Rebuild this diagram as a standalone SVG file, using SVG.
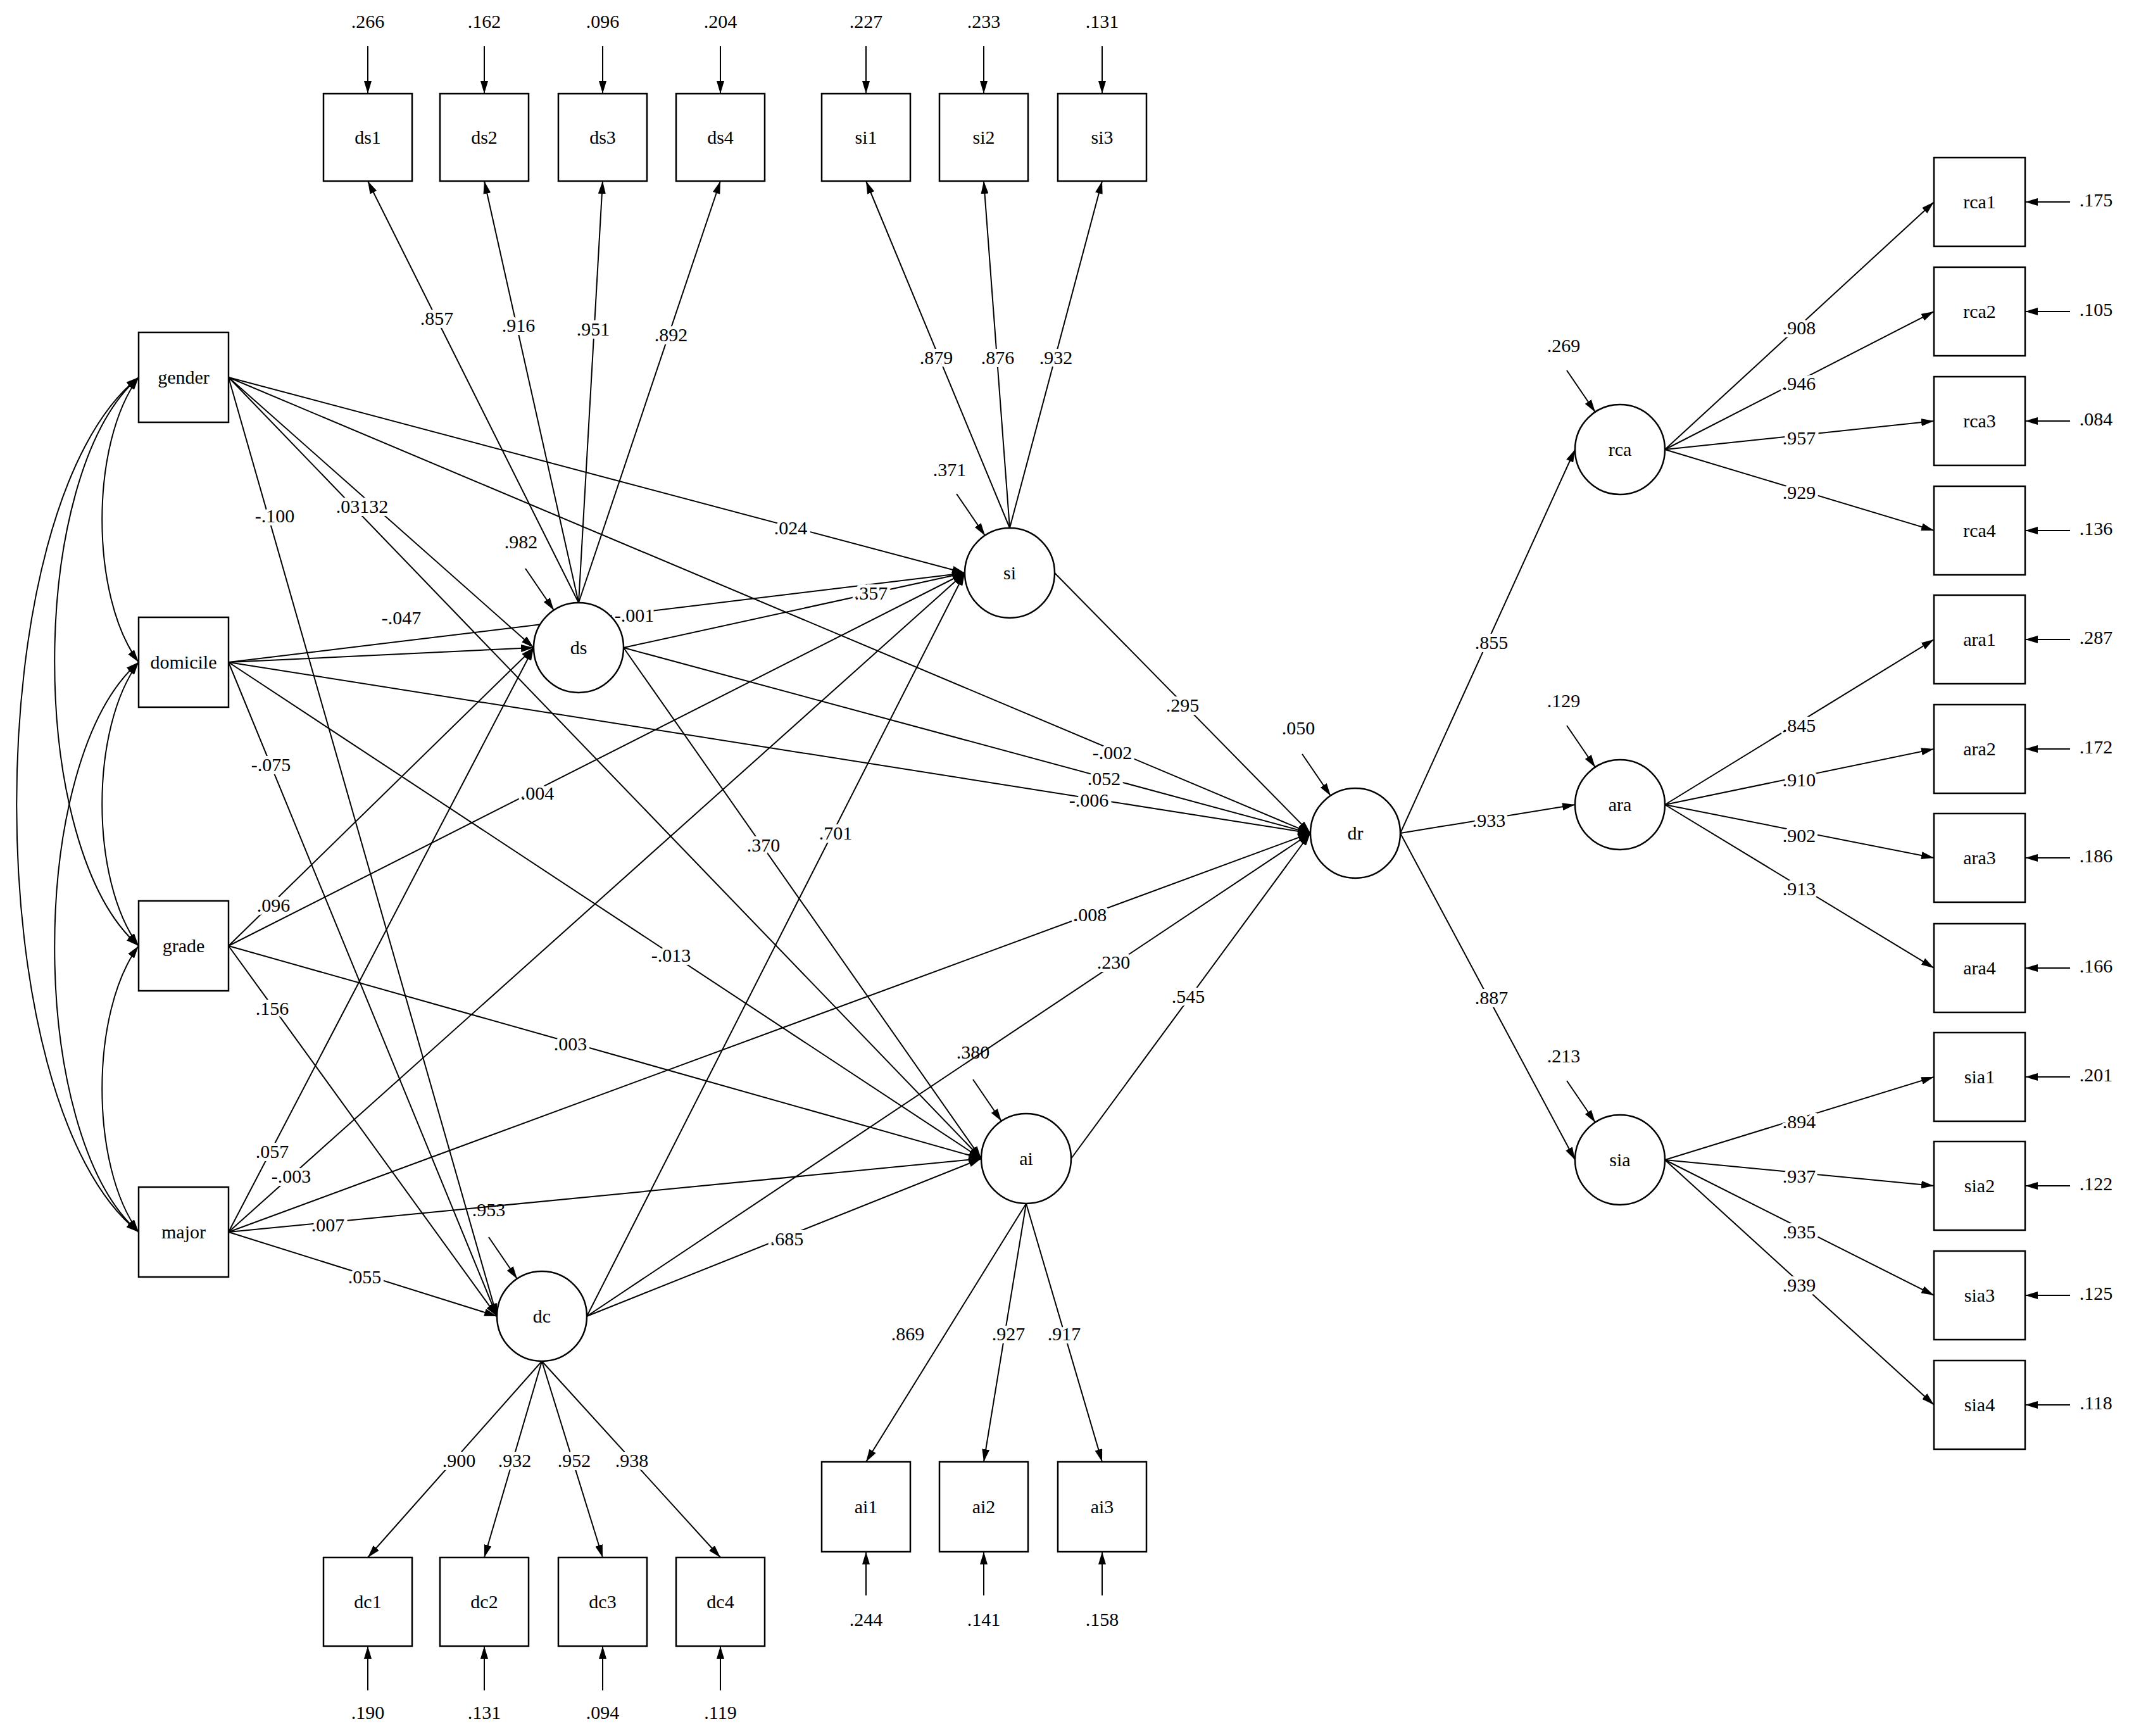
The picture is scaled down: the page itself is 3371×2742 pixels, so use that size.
<svg xmlns="http://www.w3.org/2000/svg" width="3371" height="2742" viewBox="0 0 3371 2742">
<style>
.b{fill:#fff;stroke:#000;stroke-width:2.5}
.t{font-family:"Liberation Serif",serif;font-size:30px;text-anchor:middle;fill:#000}
.lb{font-family:"Liberation Serif",serif;font-size:30px;text-anchor:middle;fill:#000;stroke:#fff;stroke-width:10px;paint-order:stroke}
.e{stroke:#000;stroke-width:2;fill:none;marker-end:url(#a)}
.c{stroke:#000;stroke-width:2;fill:none;marker-end:url(#a);marker-start:url(#a)}
</style>
<defs>
<marker id="a" viewBox="0 0 20 12" refX="20" refY="6" markerWidth="20" markerHeight="12" markerUnits="userSpaceOnUse" orient="auto-start-reverse"><path d="M0,0L20,6L0,12z" fill="#000"/></marker>
</defs>
<rect width="3371" height="2742" fill="#fff"/>
<g id="connectors">
<path class="c" d="M219,596C142,700 142,942 219,1046"/>
<path class="c" d="M219,1046C142,1150 142,1390 219,1494"/>
<path class="c" d="M219,1494C142,1598 142,1842 219,1946"/>
<path class="c" d="M219,596C42,750 42,1340 219,1494"/>
<path class="c" d="M219,1046C42,1200 42,1792 219,1946"/>
<path class="c" d="M219,596C-38,800 -38,1742 219,1946"/>
<path class="e" d="M914,952L581,286"/><path class="e" d="M914,952L765,286"/><path class="e" d="M914,952L952,286"/><path class="e" d="M914,952L1138,286"/>
<path class="e" d="M1595,834L1368,286"/><path class="e" d="M1595,834L1554,286"/><path class="e" d="M1595,834L1741,286"/>
<path class="e" d="M856,2150L581,2460"/><path class="e" d="M856,2150L765,2460"/><path class="e" d="M856,2150L952,2460"/><path class="e" d="M856,2150L1138,2460"/>
<path class="e" d="M1621,1901L1368,2309"/><path class="e" d="M1621,1901L1554,2309"/><path class="e" d="M1621,1901L1741,2309"/>
<path class="e" d="M2630,710L3055,319"/><path class="e" d="M2630,710L3055,492"/><path class="e" d="M2630,710L3055,665"/><path class="e" d="M2630,710L3055,838"/>
<path class="e" d="M2630,1271L3055,1010"/><path class="e" d="M2630,1271L3055,1183"/><path class="e" d="M2630,1271L3055,1355"/><path class="e" d="M2630,1271L3055,1529"/>
<path class="e" d="M2630,1832L3055,1701"/><path class="e" d="M2630,1832L3055,1873"/><path class="e" d="M2630,1832L3055,2046"/><path class="e" d="M2630,1832L3055,2219"/>
<path class="e" d="M2212,1316L2488,710"/><path class="e" d="M2212,1316L2488,1271"/><path class="e" d="M2212,1316L2488,1832"/>
<path class="e" d="M361,596L1524,905"/><path class="e" d="M361,596L2070,1316"/><path class="e" d="M361,596L843,1023"/><path class="e" d="M361,596L1550,1830"/><path class="e" d="M361,596L785,2079"/>
<path class="e" d="M361,1046L843,1023"/><path class="e" d="M361,1046L1524,905"/><path class="e" d="M361,1046L2070,1316"/><path class="e" d="M361,1046L1550,1830"/><path class="e" d="M361,1046L785,2079"/>
<path class="e" d="M361,1494L843,1023"/><path class="e" d="M361,1494L1524,905"/><path class="e" d="M361,1494L1550,1830"/><path class="e" d="M361,1494L785,2079"/>
<path class="e" d="M361,1946L843,1023"/><path class="e" d="M361,1946L1524,905"/><path class="e" d="M361,1946L1550,1830"/><path class="e" d="M361,1946L785,2079"/><path class="e" d="M361,1946L2070,1316"/>
<path class="e" d="M985,1023L1524,905"/><path class="e" d="M985,1023L1550,1830"/><path class="e" d="M985,1023L2070,1316"/>
<path class="e" d="M927,2079L1524,905"/><path class="e" d="M927,2079L1550,1830"/><path class="e" d="M927,2079L2070,1316"/>
<path class="e" d="M1666,905L2070,1316"/><path class="e" d="M1692,1830L2070,1316"/>
<path class="e" d="M581,73V148"/><path class="e" d="M765,73V148"/><path class="e" d="M952,73V148"/><path class="e" d="M1138,73V148"/><path class="e" d="M1368,73V148"/><path class="e" d="M1554,73V148"/><path class="e" d="M1741,73V148"/>
<path class="e" d="M581,2670V2600"/><path class="e" d="M765,2670V2600"/><path class="e" d="M952,2670V2600"/><path class="e" d="M1138,2670V2600"/>
<path class="e" d="M1368,2520V2451"/><path class="e" d="M1554,2520V2451"/><path class="e" d="M1741,2520V2451"/>
<path class="e" d="M3270,319H3199"/><path class="e" d="M3270,492H3199"/><path class="e" d="M3270,665H3199"/><path class="e" d="M3270,838H3199"/><path class="e" d="M3270,1010H3199"/><path class="e" d="M3270,1183H3199"/><path class="e" d="M3270,1355H3199"/><path class="e" d="M3270,1529H3199"/><path class="e" d="M3270,1701H3199"/><path class="e" d="M3270,1873H3199"/><path class="e" d="M3270,2046H3199"/><path class="e" d="M3270,2219H3199"/>
<path class="e" d="M830,898L875,964"/><path class="e" d="M1511,780L1556,846"/><path class="e" d="M1537,1705L1582,1771"/><path class="e" d="M772,1954L817,2020"/><path class="e" d="M2057,1191L2102,1257"/><path class="e" d="M2475,585L2520,651"/><path class="e" d="M2475,1146L2520,1212"/><path class="e" d="M2475,1707L2520,1773"/>
</g>
<g id="labels">
<text class="lb" x="690" y="513">.857</text><text class="lb" x="819" y="524">.916</text><text class="lb" x="937" y="530">.951</text><text class="lb" x="1060" y="539">.892</text>
<text class="lb" x="1479" y="575">.879</text><text class="lb" x="1576" y="575">.876</text><text class="lb" x="1668" y="575">.932</text>
<text class="lb" x="1249" y="844">.024</text><text class="lb" x="572" y="810">.03132</text><text class="lb" x="434" y="825">-.100</text>
<text class="lb" x="1002" y="982">-.001</text><text class="lb" x="1376" y="947">.357</text><text class="lb" x="634" y="986">-.047</text>
<text class="lb" x="1868" y="1124">.295</text><text class="lb" x="1757" y="1199">-.002</text><text class="lb" x="1744" y="1240">.052</text><text class="lb" x="1720" y="1274">-.006</text>
<text class="lb" x="428" y="1218">-.075</text><text class="lb" x="849" y="1263">.004</text><text class="lb" x="1206" y="1345">.370</text><text class="lb" x="1320" y="1326">.701</text>
<text class="lb" x="432" y="1440">.096</text><text class="lb" x="1722" y="1455">.008</text><text class="lb" x="1759" y="1530">.230</text><text class="lb" x="1877" y="1584">.545</text>
<text class="lb" x="1060" y="1519">-.013</text><text class="lb" x="430" y="1603">.156</text><text class="lb" x="901" y="1659">.003</text>
<text class="lb" x="430" y="1829">.057</text><text class="lb" x="460" y="1868">-.003</text><text class="lb" x="518" y="1945">.007</text><text class="lb" x="1243" y="1967">.685</text><text class="lb" x="576" y="2027">.055</text>
<text class="lb" x="725" y="2317">.900</text><text class="lb" x="813" y="2317">.932</text><text class="lb" x="907" y="2317">.952</text><text class="lb" x="998" y="2317">.938</text>
<text class="lb" x="1434" y="2117">.869</text><text class="lb" x="1593" y="2117">.927</text><text class="lb" x="1681" y="2117">.917</text>
<text class="lb" x="2356" y="1025">.855</text><text class="lb" x="2352" y="1306">.933</text><text class="lb" x="2356" y="1586">.887</text>
<text class="lb" x="2842" y="528">.908</text><text class="lb" x="2842" y="616">.946</text><text class="lb" x="2842" y="702">.957</text><text class="lb" x="2842" y="788">.929</text>
<text class="lb" x="2842" y="1156">.845</text><text class="lb" x="2842" y="1242">.910</text><text class="lb" x="2842" y="1330">.902</text><text class="lb" x="2842" y="1414">.913</text>
<text class="lb" x="2842" y="1782">.894</text><text class="lb" x="2842" y="1868">.937</text><text class="lb" x="2842" y="1956">.935</text><text class="lb" x="2842" y="2040">.939</text>
<text class="t" x="581" y="44">.266</text><text class="t" x="765" y="44">.162</text><text class="t" x="952" y="44">.096</text><text class="t" x="1138" y="44">.204</text><text class="t" x="1368" y="44">.227</text><text class="t" x="1554" y="44">.233</text><text class="t" x="1741" y="44">.131</text>
<text class="t" x="581" y="2715">.190</text><text class="t" x="765" y="2715">.131</text><text class="t" x="952" y="2715">.094</text><text class="t" x="1138" y="2715">.119</text>
<text class="t" x="1368" y="2568">.244</text><text class="t" x="1554" y="2568">.141</text><text class="t" x="1741" y="2568">.158</text>
<text class="t" x="3311" y="326">.175</text><text class="t" x="3311" y="499">.105</text><text class="t" x="3311" y="672">.084</text><text class="t" x="3311" y="845">.136</text><text class="t" x="3311" y="1017">.287</text><text class="t" x="3311" y="1190">.172</text><text class="t" x="3311" y="1362">.186</text><text class="t" x="3311" y="1536">.166</text><text class="t" x="3311" y="1708">.201</text><text class="t" x="3311" y="1880">.122</text><text class="t" x="3311" y="2053">.125</text><text class="t" x="3311" y="2226">.118</text>
<text class="t" x="823" y="866">.982</text><text class="t" x="1500" y="752">.371</text><text class="t" x="1537" y="1672">.380</text><text class="t" x="772" y="1921">.953</text><text class="t" x="2051" y="1160">.050</text><text class="t" x="2470" y="556">.269</text><text class="t" x="2470" y="1117">.129</text><text class="t" x="2470" y="1678">.213</text>
</g>
<g id="gender"><rect class="b" x="219" y="525" width="142" height="142"/><text class="t" x="290" y="606">gender</text></g>
<g id="domicile"><rect class="b" x="219" y="975" width="142" height="142"/><text class="t" x="290" y="1056">domicile</text></g>
<g id="grade"><rect class="b" x="219" y="1423" width="142" height="142"/><text class="t" x="290" y="1504">grade</text></g>
<g id="major"><rect class="b" x="219" y="1875" width="142" height="142"/><text class="t" x="290" y="1956">major</text></g>
<g id="ds1"><rect class="b" x="511" y="148" width="140" height="138"/><text class="t" x="581" y="227">ds1</text></g>
<g id="ds2"><rect class="b" x="695" y="148" width="140" height="138"/><text class="t" x="765" y="227">ds2</text></g>
<g id="ds3"><rect class="b" x="882" y="148" width="140" height="138"/><text class="t" x="952" y="227">ds3</text></g>
<g id="ds4"><rect class="b" x="1068" y="148" width="140" height="138"/><text class="t" x="1138" y="227">ds4</text></g>
<g id="si1"><rect class="b" x="1298" y="148" width="140" height="138"/><text class="t" x="1368" y="227">si1</text></g>
<g id="si2"><rect class="b" x="1484" y="148" width="140" height="138"/><text class="t" x="1554" y="227">si2</text></g>
<g id="si3"><rect class="b" x="1671" y="148" width="140" height="138"/><text class="t" x="1741" y="227">si3</text></g>
<g id="dc1"><rect class="b" x="511" y="2460" width="140" height="140"/><text class="t" x="581" y="2540">dc1</text></g>
<g id="dc2"><rect class="b" x="695" y="2460" width="140" height="140"/><text class="t" x="765" y="2540">dc2</text></g>
<g id="dc3"><rect class="b" x="882" y="2460" width="140" height="140"/><text class="t" x="952" y="2540">dc3</text></g>
<g id="dc4"><rect class="b" x="1068" y="2460" width="140" height="140"/><text class="t" x="1138" y="2540">dc4</text></g>
<g id="ai1"><rect class="b" x="1298" y="2309" width="140" height="142"/><text class="t" x="1368" y="2390">ai1</text></g>
<g id="ai2"><rect class="b" x="1484" y="2309" width="140" height="142"/><text class="t" x="1554" y="2390">ai2</text></g>
<g id="ai3"><rect class="b" x="1671" y="2309" width="140" height="142"/><text class="t" x="1741" y="2390">ai3</text></g>
<g id="rca1"><rect class="b" x="3055" y="249" width="144" height="140"/><text class="t" x="3127" y="329">rca1</text></g>
<g id="rca2"><rect class="b" x="3055" y="422" width="144" height="140"/><text class="t" x="3127" y="502">rca2</text></g>
<g id="rca3"><rect class="b" x="3055" y="595" width="144" height="140"/><text class="t" x="3127" y="675">rca3</text></g>
<g id="rca4"><rect class="b" x="3055" y="768" width="144" height="140"/><text class="t" x="3127" y="848">rca4</text></g>
<g id="ara1"><rect class="b" x="3055" y="940" width="144" height="140"/><text class="t" x="3127" y="1020">ara1</text></g>
<g id="ara2"><rect class="b" x="3055" y="1113" width="144" height="140"/><text class="t" x="3127" y="1193">ara2</text></g>
<g id="ara3"><rect class="b" x="3055" y="1285" width="144" height="140"/><text class="t" x="3127" y="1365">ara3</text></g>
<g id="ara4"><rect class="b" x="3055" y="1459" width="144" height="140"/><text class="t" x="3127" y="1539">ara4</text></g>
<g id="sia1"><rect class="b" x="3055" y="1631" width="144" height="140"/><text class="t" x="3127" y="1711">sia1</text></g>
<g id="sia2"><rect class="b" x="3055" y="1803" width="144" height="140"/><text class="t" x="3127" y="1883">sia2</text></g>
<g id="sia3"><rect class="b" x="3055" y="1976" width="144" height="140"/><text class="t" x="3127" y="2056">sia3</text></g>
<g id="sia4"><rect class="b" x="3055" y="2149" width="144" height="140"/><text class="t" x="3127" y="2229">sia4</text></g>
<g id="ds"><circle class="b" cx="914" cy="1023" r="71"/><text class="t" x="914" y="1033">ds</text></g>
<g id="si"><circle class="b" cx="1595" cy="905" r="71"/><text class="t" x="1595" y="915">si</text></g>
<g id="ai"><circle class="b" cx="1621" cy="1830" r="71"/><text class="t" x="1621" y="1840">ai</text></g>
<g id="dc"><circle class="b" cx="856" cy="2079" r="71"/><text class="t" x="856" y="2089">dc</text></g>
<g id="dr"><circle class="b" cx="2141" cy="1316" r="71"/><text class="t" x="2141" y="1326">dr</text></g>
<g id="rca"><circle class="b" cx="2559" cy="710" r="71"/><text class="t" x="2559" y="720">rca</text></g>
<g id="ara"><circle class="b" cx="2559" cy="1271" r="71"/><text class="t" x="2559" y="1281">ara</text></g>
<g id="sia"><circle class="b" cx="2559" cy="1832" r="71"/><text class="t" x="2559" y="1842">sia</text></g>
</svg>
